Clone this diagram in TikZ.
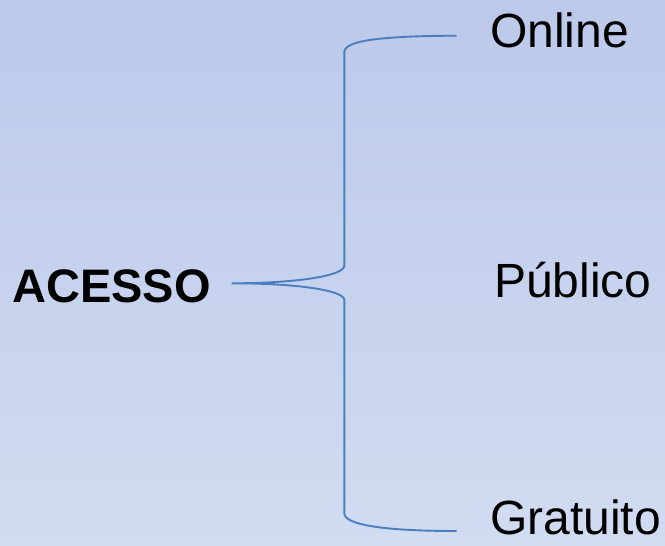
\documentclass[tikz,border=0pt]{standalone}
\usepackage{fontspec}
\setmainfont{Liberation Sans}
\definecolor{bgtop}{HTML}{BCC9EA}
\definecolor{bgbot}{HTML}{D1DCF1}
\definecolor{bracecol}{HTML}{4A7EBF}
\begin{document}
\begin{tikzpicture}[x=1pt,y=-1pt,
    item/.style={inner sep=0pt,anchor=base west,font=\fontsize{48}{54}\selectfont},
    head/.style={inner sep=0pt,anchor=base west,font=\fontsize{47}{53}\selectfont\bfseries},
    brace/.style={draw=bracecol,line width=1.9pt}]
\shade[top color=bgtop,bottom color=bgbot] (0,0) rectangle (665,546);
\useasboundingbox (0,0) rectangle (665,546);
% labels
\node[head] (acesso) at (12,302) {ACESSO};
\node[item] (online) at (490,47) {Online};
\node[item] (publico) at (494,297.5) {Público};
\node[item] (gratuito) at (490,534) {Gratuito};
% brace ends
\coordinate (tip) at (231.7,283.3);
\coordinate (top) at (456.7,35.7);
\coordinate (bot) at (456.7,531);
\draw[brace] (top) .. controls (385,36) and (344.3,40) .. (344.3,52)
    -- (344.3,265.7) .. controls (344.3,276) and (295,283.3) .. (tip)
    .. controls (295,283.3) and (344.3,290) .. (344.3,300)
    -- (344.3,513.3) .. controls (344.3,525) and (385,531) .. (bot);
\end{tikzpicture}
\end{document}
